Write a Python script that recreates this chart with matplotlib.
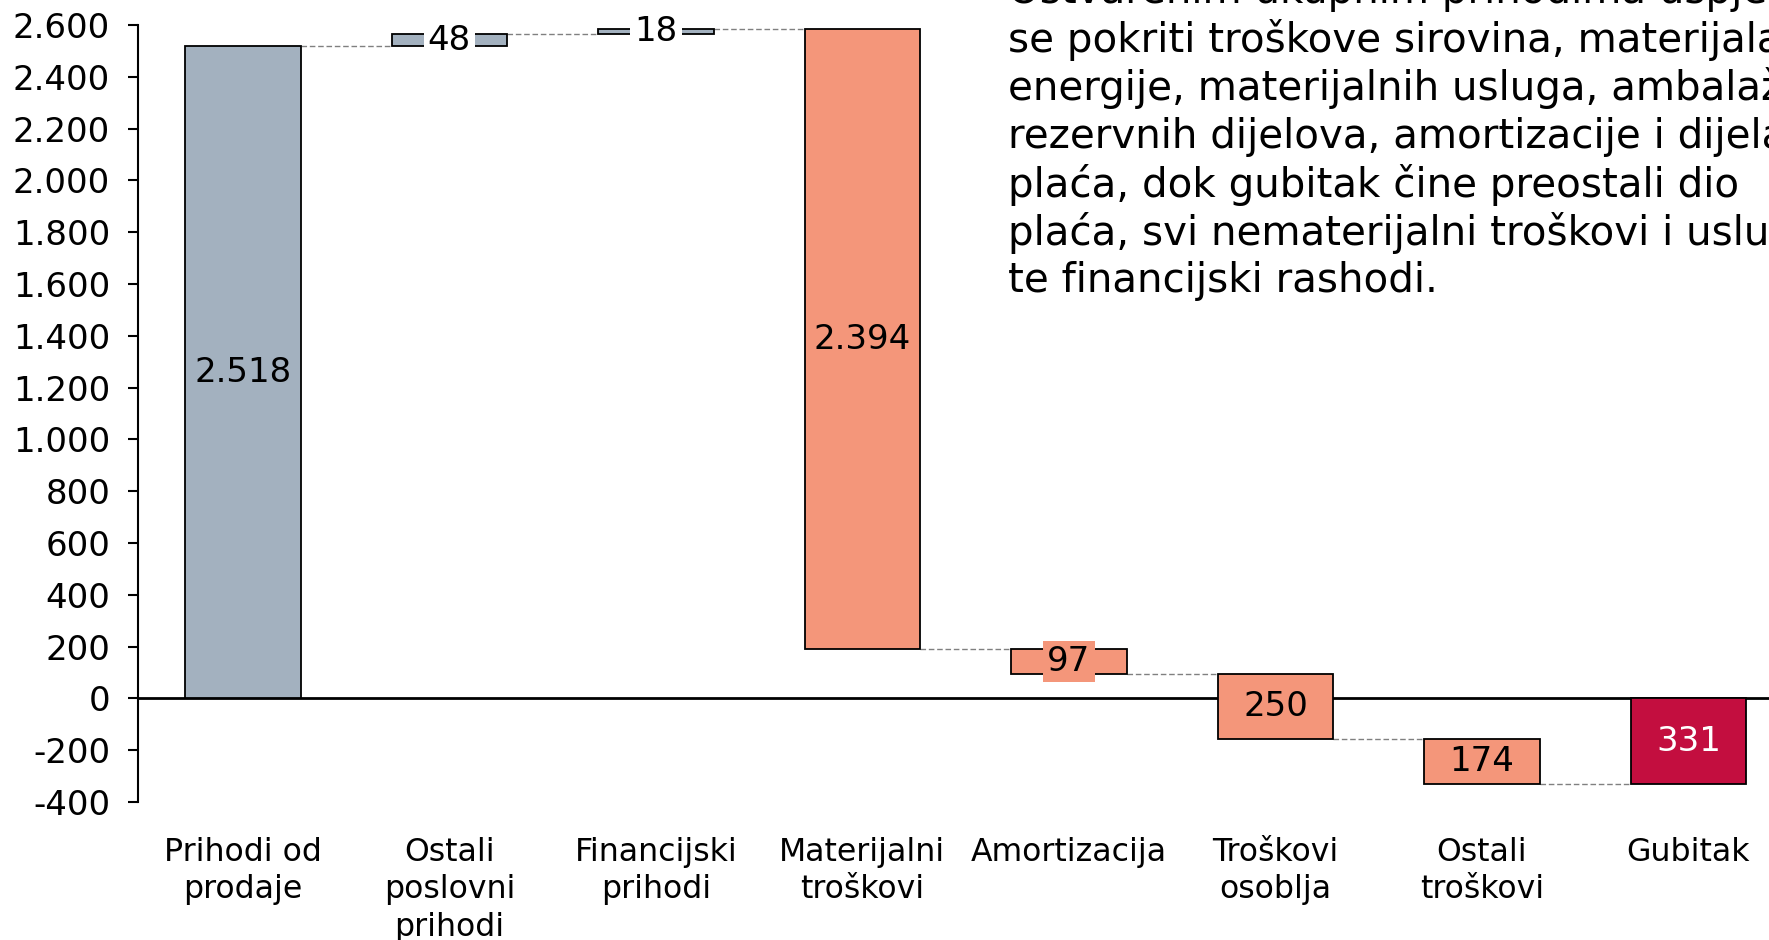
import matplotlib
matplotlib.use("Agg")
import matplotlib.pyplot as plt
import numpy as np

categories = ["Prihodi od\nprodaje", "Ostali\nposlovni\nprihodi", "Financijski\nprihodi",
              "Materijalni\ntroškovi", "Amortizacija", "Troškovi\nosoblja", "Ostali\ntroškovi", "Gubitak"]
values = [2518, 48, 18, -2394, -97, -250, -174, -331]
kinds = ["income", "income", "income", "cost", "cost", "cost", "cost", "total"]
yticks = list(range(-400, 2601, 200))
note_lines = [
    "Ostvarenim ukupnim prihodima uspjelo je",
    "se pokriti troškove sirovina, materijala,",
    "energije, materijalnih usluga, ambalaže,",
    "rezervnih dijelova, amortizacije i dijela",
    "plaća, dok gubitak čine preostali dio",
    "plaća, svi nematerijalni troškovi i usluge",
    "te financijski rashodi.",
]

colors = {"income": "#A3B1BF", "cost": "#F4967A", "total": "#C30E3F"}
FS = 24.5
FS_X = 22.7
FS_NOTE = 29.1
plt.rcParams["font.family"] = ["DejaVu Sans"]

W, H = 1769, 940
fig = plt.figure(figsize=(W / 100, H / 100), dpi=100)
ax = fig.add_axes([138 / W, (H - 802) / H, (W - 138) / W, (802 - 25) / H])

# waterfall computation
bottoms, tops = [], []
run = 0
for v, k in zip(values, kinds):
    if k == "total":
        b, t = min(0, -abs(v)), 0
        bottoms.append(b); tops.append(t)
    else:
        new = run + v
        bottoms.append(min(run, new)); tops.append(max(run, new))
        run = new

x = np.arange(len(values))
bw = 0.56
ax.axhline(0, color="black", lw=2, zorder=1)
for i in range(len(values)):
    ax.bar(x[i], tops[i] - bottoms[i], bottom=bottoms[i], width=bw,
           color=colors[kinds[i]], edgecolor="black", linewidth=1.3, zorder=2)

# connectors
levels = []
run = 0
for v in values[:-1]:
    run += v
    levels.append(run)
for i, lv in enumerate(levels):
    ax.plot([x[i] + bw / 2, x[i + 1] - bw / 2], [lv, lv], color="#808080",
            lw=1.0, ls=(0, (4, 2)), zorder=1.5)

def fmt(v):
    return f"{abs(v):,.0f}".replace(",", ".")

for i, v in enumerate(values):
    mid = (tops[i] + bottoms[i]) / 2
    k = kinds[i]
    fc = "white" if (k == "income" and i > 0) else colors[k]
    tc = "white" if k == "total" else "black"
    ax.text(x[i], mid, fmt(v), ha="center", va="center", fontsize=FS, color=tc, zorder=3,
            bbox=dict(boxstyle="square,pad=0.12", fc=fc, ec="none"))

ax.set_xlim(-0.508, 7.39)
ax.set_ylim(-400, 2600)
ax.set_yticks(yticks)
ax.set_yticklabels([f"{t:,}".replace(",", ".") for t in yticks], fontsize=FS)
ax.set_xticks(x)
ax.set_xticklabels(categories, fontsize=FS_X, linespacing=1.28)
ax.tick_params(axis="x", length=0, pad=25)
ax.tick_params(axis="y", length=7, width=1.5, pad=13, direction="out")
for s in ["top", "right", "bottom"]:
    ax.spines[s].set_visible(False)
ax.spines["left"].set_linewidth(1.5)

for i, line in enumerate(note_lines):
    yc = 40 + 48.3 * (i - 1)
    fig.text(1008 / W, 1 - yc / H, line, fontsize=FS_NOTE, ha="left", va="center")

fig.savefig("out.png", dpi=100)
